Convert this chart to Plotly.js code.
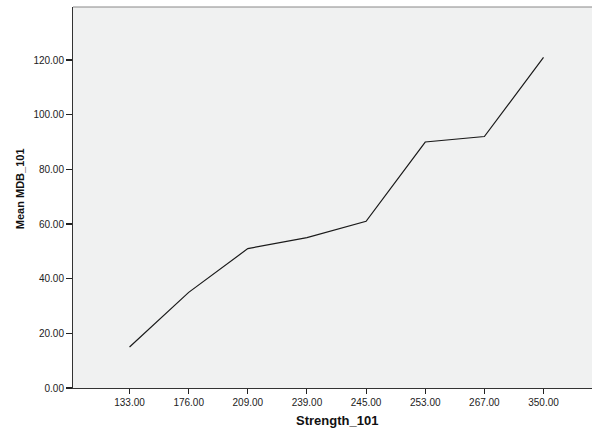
<!DOCTYPE html>
<html><head><meta charset="utf-8">
<script src="https://cdn.plot.ly/plotly-3.0.1.min.js"></script>
<style>html,body{margin:0;padding:0;background:#fff;}#c{width:592px;height:431px;}</style>
</head><body><div id="c"></div>
<script>
const categories = ["133.00","176.00","209.00","239.00","245.00","253.00","267.00","350.00"];
const meanValues = [15, 35, 51, 55, 61, 90, 92, 121];
const yTickVals = [0, 20, 40, 60, 80, 100, 120];
const yTickText = ["0.00","20.00","40.00","60.00","80.00","100.00","120.00"];
const xTitle = "Strength_101";
const yTitle = "Mean MDB_101";

const trace = {
  x: categories, y: meanValues, type: "scatter", mode: "lines",
  line: {color: "#1a1a1a", width: 1.2}, hoverinfo: "skip"
};
const layout = {
  width: 592, height: 431,
  margin: {l: 73, r: 0, t: 7, b: 43},
  paper_bgcolor: "#ffffff", plot_bgcolor: "#f0f1f1",
  showlegend: false,
  font: {family: "Arial, Liberation Sans, sans-serif", size: 10, color: "#222"},
  xaxis: {
    type: "category", range: [-0.956, 7.82],
    showgrid: false, zeroline: false,
    showline: true, linecolor: "#333", linewidth: 1,
    ticks: "outside", ticklen: 5, tickcolor: "#222", tickwidth: 1,
    tickfont: {size: 10, color: "#222"}
  },
  yaxis: {
    range: [0, 139.4],
    tickvals: yTickVals, ticktext: yTickText,
    showgrid: false, zeroline: false,
    showline: true, linecolor: "#333", linewidth: 1,
    ticks: "outside", ticklen: 6, tickcolor: "#222", tickwidth: 1.5,
    tickfont: {size: 10, color: "#222"}
  },
  annotations: [
    {text: "<b>" + xTitle + "</b>", xref: "paper", yref: "paper", x: 0.508, y: -0.0866,
     xanchor: "center", yanchor: "middle", showarrow: false,
     font: {size: 13, color: "#111", family: "Arial, Liberation Sans, sans-serif"}},
    {text: "<b>" + yTitle + "</b>", xref: "paper", yref: "paper", x: -0.102, y: 0.522,
     xanchor: "center", yanchor: "middle", textangle: -90, showarrow: false,
     font: {size: 11, color: "#111", family: "Arial, Liberation Sans, sans-serif"}}
  ],
  shapes: [{type: "line", xref: "paper", yref: "paper", x0: 0, x1: 1, y0: 1, y1: 1,
            line: {color: "#888", width: 1}}]
};
Plotly.newPlot("c", [trace], layout, {displayModeBar: false, staticPlot: true});
</script></body></html>
